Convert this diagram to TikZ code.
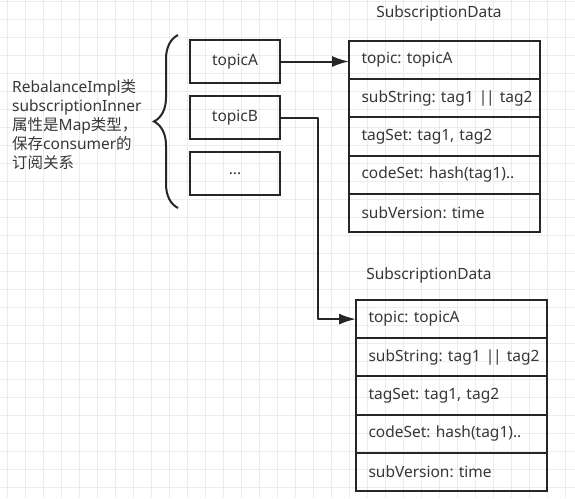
\documentclass[tikz,border=0pt]{standalone}
\usepackage{fontspec}
\setmainfont{Noto Sans}
\newfontfamily\cjk{Noto Sans CJK SC}
\frenchspacing
\usepackage{tikz}
\usetikzlibrary{arrows.meta, decorations.pathreplacing, positioning}
\usepackage{xcolor}
\definecolor{GridGray}{RGB}{236, 236, 236}
\definecolor{LineBlack}{RGB}{38, 38, 38}
\definecolor{TextGray}{RGB}{55, 55, 55}
\newcommand{\dbar}{|\kern-1.2pt|}
\tikzset{%
  key_block/.style={%
    rectangle,%
    minimum width=90pt,%
    minimum height=43pt,%
    inner sep=0pt,%
    outer sep=0pt,%
    draw=LineBlack,%
    line width=2pt,%
    text=TextGray,%
    font={\fontsize{15.5}{18}\selectfont},%
    align=center%
  },
  field_block/.style={%
    rectangle,%
    minimum height=38.2pt,%
    text width=166pt,%
    inner xsep=12.5pt,%
    inner ysep=0pt,%
    outer sep=0pt,%
    draw=LineBlack,%
    line width=2pt,%
    text=TextGray,%
    font={\fontsize{15.5}{18}\selectfont},%
    align=left%
  },
  title_text/.style={%
    text=TextGray,%
    font={\fontsize{15.5}{18}\selectfont},%
  },
  annotate/.style={%
    text=TextGray,%
    font={\fontsize{15.5}{19}\selectfont},%
    align=left,%
    inner sep=0pt,%
  },
  grid_line/.style={%
    color=GridGray,%
    line width=0.8pt,%
  },
  brace_path/.style={%
    color=LineBlack,%
    line width=2pt,%
    decorate,%
    decoration={brace, amplitude=24pt, aspect=0.5},%
  },
  smooth_path/.style={%
    color=LineBlack,%
    line width=2pt,%
    line join=round,%
  },
  arrow/.style={-{Latex[length=17pt, width=11pt]}},
}
\begin{document}
\begin{tikzpicture}[x=1pt, y=-1pt]

    \fill [white] (0, 0) rectangle (575, 498);
    \useasboundingbox (0, 0) rectangle (575, 498);

    % background grid
    \foreach \gx in {7.3, 25.3, ..., 575}
      \draw [grid_line] (\gx, 0) -- (\gx, 498);
    \foreach \gy in {1.7, 19.7, ..., 498}
      \draw [grid_line] (0, \gy) -- (575, \gy);

    \node [annotate, anchor=west] (Desc) at (12, 125)
      {RebalanceImpl{\cjk 类}\\subscriptionInner\\{\cjk 属性是}Map{\cjk 类型，}\\{\cjk 保存}consumer{\cjk 的}\\{\cjk 订阅关系}};

    \node [key_block] (TopicA) at (235, 61.5) {topicA};
    \node [key_block, below = 13pt of TopicA] (TopicB) {topicB};
    \node [key_block, below = 13pt of TopicB] (TopicMore) {...};

    \coordinate (BraceTop) at (178, 35);
    \coordinate (BraceBottom) at (178, 208);
    \draw [brace_path] (BraceBottom) -- (BraceTop);

    % first SubscriptionData
    \node [title_text] (TitleA) at (439, 13) {SubscriptionData};
    \node [field_block, anchor=north west] (DataA1) at (349, 41) {topic: topicA};
    \node [field_block, below = 0pt of DataA1] (DataA2) {\mbox{subString: tag1 \dbar{} tag2}};
    \node [field_block, below = 0pt of DataA2] (DataA3) {tagSet: tag1, tag2};
    \node [field_block, below = 0pt of DataA3] (DataA4) {codeSet: hash(tag1)..};
    \node [field_block, below = 0pt of DataA4] (DataA5) {subVersion: time};

    % second SubscriptionData
    \node [title_text] (TitleB) at (429, 275) {SubscriptionData};
    \node [field_block, anchor=north west] (DataB1) at (356, 300) {topic: topicA};
    \node [field_block, below = 0pt of DataB1] (DataB2) {\mbox{subString: tag1 \dbar{} tag2}};
    \node [field_block, below = 0pt of DataB2] (DataB3) {tagSet: tag1, tag2};
    \node [field_block, below = 0pt of DataB3] (DataB4) {codeSet: hash(tag1)..};
    \node [field_block, below = 0pt of DataB4] (DataB5) {subVersion: time};

    \coordinate [right = 38pt of TopicB.east] (BendB);

    \draw [arrow, smooth_path]
      (TopicA.east)
      --
      (TopicA.east -| DataA1.west);
    \draw [arrow, smooth_path]
      (TopicB.east)
      --
      (BendB)
      |-
      (DataB1.west);

\end{tikzpicture}
\end{document}
